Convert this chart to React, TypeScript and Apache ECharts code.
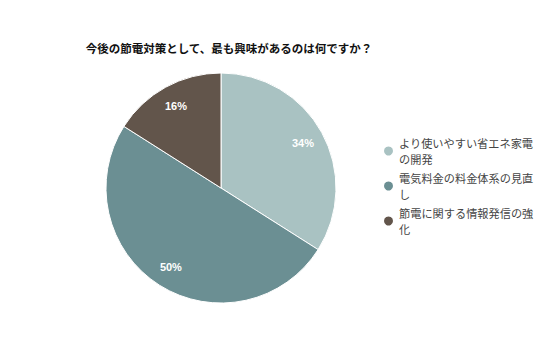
import React, { useEffect, useRef } from "react";
import * as echarts from "echarts";

const title = "今後の節電対策として、最も興味があるのは何ですか？";
const categories = ["より使いやすい省エネ家電の開発", "電気料金の料金体系の見直し", "節電に関する情報発信の強化"];
const values = [34, 50, 16];
const colors = ["#a9c2c2", "#6b8f93", "#62554b"];

export default function App() {
  const ref = useRef<HTMLDivElement>(null);
  useEffect(() => {
    document.body.style.margin = "0";
    const chart = echarts.init(ref.current!, null, { renderer: "svg" });
    const data = categories.map((n, i) => ({ name: n, value: values[i] }));
    chart.setOption({
      animation: false,
      color: colors,
      textStyle: { fontFamily: "'Noto Sans CJK JP', 'Noto Sans', sans-serif" },
      title: {
        text: title,
        left: 224,
        textAlign: "center",
        top: 37,
        textStyle: { fontSize: 11.5, fontWeight: "bold", color: "#111" },
      },
      legend: {
        orient: "vertical",
        left: 377,
        top: 130,
        icon: "circle",
        itemWidth: 11,
        itemHeight: 11,
        itemGap: 3,
        data: categories,
        textStyle: {
          fontSize: 11.2,
          color: "#444",
          width: 136,
          overflow: "break",
          lineHeight: 16,
        },
      },
      series: [
        {
          type: "pie",
          center: [221, 188],
          radius: [0, 115],
          startAngle: 90,
          clockwise: true,
          data,
          itemStyle: { borderColor: "#fff", borderWidth: 1 },
          label: { show: false },
          labelLine: { show: false },
          emphasis: { disabled: true },
        },
        {
          type: "pie",
          center: [221, 188],
          radius: [66, 115],
          startAngle: 90,
          clockwise: true,
          silent: true,
          legendHoverLink: false,
          data: data.map((d) => ({ ...d, itemStyle: { color: "rgba(0,0,0,0)" } })),
          label: {
            show: true,
            position: "inside",
            formatter: (p: any) => p.value + "%",
            color: "#fff",
            fontSize: 11,
            fontWeight: "bold",
            fontFamily: "Arial, 'Liberation Sans', sans-serif",
          },
          labelLine: { show: false },
          emphasis: { disabled: true },
        },
      ],
    });
    return () => chart.dispose();
  }, []);
  return <div ref={ref} style={{ width: 536, height: 357 }} />;
}
